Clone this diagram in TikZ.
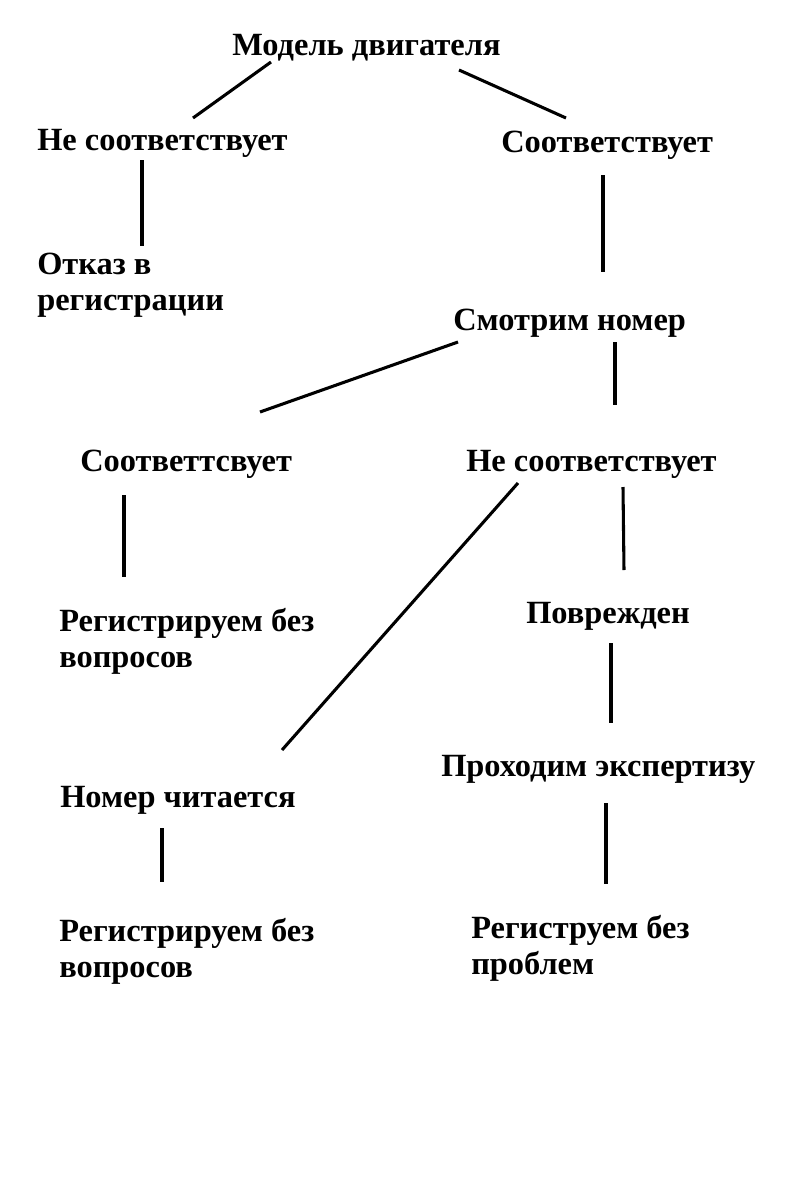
\documentclass[tikz,border=0pt]{standalone}
\usepackage{fontspec}
\setmainfont{Liberation Serif}
\begin{document}
\begin{tikzpicture}[x=0.75pt,y=-0.75pt,
  lbl/.style={anchor=base west,inner sep=0pt,align=left,font=\bfseries\fontsize{24.3}{27}\selectfont},
  conn/.style={line width=2.3pt}]
\useasboundingbox (0,0) rectangle (800,1200);
\node[lbl] (m) at (232,55) {Модель двигателя};
\node[lbl] (n1) at (37,150) {Не соответствует};
\node[lbl] (s1) at (501,152) {Соответствует};
\node[lbl] (o) at (37,310) {Отказ в\\регистрации};
\node[lbl] (sm) at (453,330) {Смотрим номер};
\node[lbl] (s2) at (80,471) {Соответтсвует};
\node[lbl] (n2) at (466,471) {Не соответствует};
\node[lbl] (r1) at (59,667) {Регистрируем без\\вопросов};
\node[lbl] (p) at (526,623) {Поврежден};
\node[lbl] (e) at (441,776) {Проходим экспертизу};
\node[lbl] (nc) at (60,807) {Номер читается};
\node[lbl] (r2) at (59,977) {Регистрируем без\\вопросов};
\node[lbl] (r3) at (471,974) {Региструем без\\проблем};
\draw[conn] (193,118) -- (271,62);
\draw[conn] (459,70) -- (566,118);
\draw[conn] (142,160) -- (142,246);
\draw[conn] (603,175) -- (603,272);
\draw[conn] (458,342) -- (260,412);
\draw[conn] (615,342) -- (615,405);
\draw[conn] (124,495) -- (124,577);
\draw[conn] (518,483) -- (282,750);
\draw[conn] (623,487) -- (624,570);
\draw[conn] (611,643) -- (611,723);
\draw[conn] (606,803) -- (606,884);
\draw[conn] (162,828) -- (162,882);
\end{tikzpicture}
\end{document}
